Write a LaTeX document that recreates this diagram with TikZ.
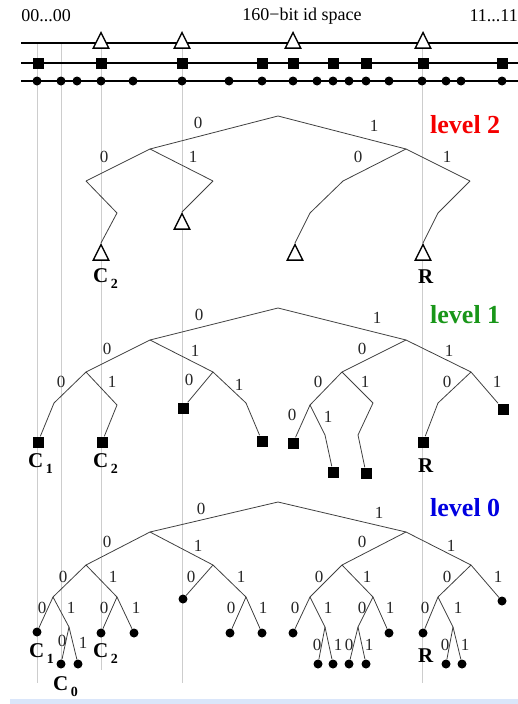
\documentclass[tikz,border=0pt]{standalone}
\usepackage{fontspec}
\setmainfont{Liberation Serif}
\usetikzlibrary{shapes.geometric}
\definecolor{lvtwo}{RGB}{245,0,0}
\definecolor{lvone}{RGB}{25,150,25}
\definecolor{lvzero}{RGB}{0,0,225}
\definecolor{guide}{RGB}{205,205,205}
\definecolor{band}{RGB}{218,230,250}
\newcommand\clab[2]{\textbf{#1}\hspace{2.5pt}\raisebox{-6pt}{\fontsize{14}{14}\selectfont\bfseries #2}}
\begin{document}
\begin{tikzpicture}[x=1pt,y=-1pt,
		edge/.style={draw=black!75,line width=0.8pt},
		bit/.style={font=\fontsize{17}{17}\selectfont,text=black!85,inner sep=0pt},
		dot/.style={circle,fill=black,inner sep=0pt,minimum size=9pt},
		sq/.style={rectangle,fill=black,inner sep=0pt,minimum size=11pt},
		tri/.style={isosceles triangle,isosceles triangle apex angle=53,shape border rotate=90,
			draw=black,line width=1.4pt,fill=white,inner sep=0pt,minimum width=15.5pt,minimum height=15.5pt},
		idline/.style={line width=1.6pt},
		guideline/.style={draw=guide,line width=1pt},
		leaflabel/.style={anchor=base west,inner sep=0pt,font=\fontsize{21}{21}\selectfont\bfseries},
		levellabel/.style={anchor=base west,inner sep=0pt,font=\fontsize{26}{26}\selectfont\bfseries},
		idtext/.style={font=\fontsize{18}{18}\selectfont,inner sep=0pt}
	]
	\useasboundingbox (0,0) rectangle (518,704);
	\fill[band] (10,699) rectangle (518,704);

	% guides down from the id space
	\foreach \x/\y in {37/683,61/660,101/670,182/683,422/683}
		\draw[guideline] (\x,43) -- (\x,\y);

	% id space
	\node[idtext] (lo) at (46,16) {00...00};
	\node[idtext] (mid) at (302,16) {160−bit id space};
	\node[idtext,anchor=east] (hi) at (518,16) {11...11};
	\foreach \y in {43,63,81}
		\draw[idline] (21,\y) -- (518,\y);
	\foreach \x in {101,182,293,423}
		\node[tri,anchor=apex] (top\x) at (\x,31) {};
	\foreach \x in {38,101,182,262,293,333,366,423,502}
		\node[sq] (mid\x) at (\x,63) {};
	\foreach \x in {37,61,77,101,133,182,229,262,293,317,333,349,366,389,422,446,461,502}
		\node[dot] (low\x) at (\x,81) {};

	% level 2
	\foreach \n/\x/\y in {r/278/116,a/150/149,b/406/149,aa/86/181,ab/213/181,ba/343/181,bb/470/181,
			aak/117/213,bak/310/213,bbk/438/213}
		\coordinate (t2\n) at (\x,\y);
	\foreach \n/\x/\y in {c/101/243,m/182/212,n/295/243,r/423/243}
		\node[tri,anchor=apex] (t2\n x) at (\x,\y) {};
	\foreach \p/\c in {r/a,r/b,a/aa,a/ab,b/ba,b/bb,aa/aak,aak/cx.apex,ab/mx.apex,
			ba/bak,bak/nx.apex,bb/bbk,bbk/rx.apex}
		\draw[edge] (t2\p) -- (t2\c);
	\foreach \x/\y/\b in {198/123/0,374/126/1,104/157/0,193/157/1,358/157/0,447/157/1}
		\node[bit] at (\x,\y) {\b};
	\node[levellabel,text=lvtwo] (lv2) at (430,133) {level 2};
	\node[leaflabel] (t2cl) at (93,282) {\clab{C}{2}};
	\node[leaflabel] (t2rl) at (418,283) {R};

	% level 1
	\foreach \n/\x/\y in {r/278/308,a/150/340,b/406/340,aa/86/372,ab/213/372,ba/342/372,bb/471/372,
			aaa/54/403,aab/117/405,abb/246/403,baa/310/405,bab/373/403,bba/438/403,
			baab/325/435,babk/358/435}
		\coordinate (t1\n) at (\x,\y);
	\foreach \n/\x/\y in {s1/38/442,s2/102/442,s3/183/408,s4/262/441,s5/293/443,
			s6/333/472,s7/366/473,s8/423/442,s9/503/409}
		\node[sq] (t1\n) at (\x,\y) {};
	\foreach \p/\c in {r/a,r/b,a/aa,a/ab,b/ba,b/bb,aa/aaa,aa/aab,aaa/s1,aab/s2,ab/s3,ab/abb,abb/s4,
			ba/baa,ba/bab,baa/s5,baa/baab,baab/s6,bab/babk,babk/s7,bb/bba,bb/s9,bba/s8}
		\draw[edge] (t1\p) -- (t1\c);
	\foreach \x/\y/\b in {199/315/0,377/318/1,107/349/0,195/351/1,362/349/0,449/351/1,
			61/382/0,112/382/1,189/380/0,239/385/1,318/382/0,365/382/1,447/382/0,497/382/1,
			292/415/0,328/417/1}
		\node[bit] at (\x,\y) {\b};
	\node[levellabel,text=lvone] (lv1) at (430,323) {level 1};
	\node[leaflabel] (t1c1) at (28,467) {\clab{C}{1}};
	\node[leaflabel] (t1c2) at (93,467) {\clab{C}{2}};
	\node[leaflabel] (t1rl) at (418,472) {R};

	% level 0
	\foreach \n/\x/\y in {r/278/502,a/150/532,b/406/532,aa/86/565,ab/213/565,ba/342/565,bb/471/565,
			aaa/53/597,aab/117/597,abb/246/597,baa/310/597,bab/373/597,bba/438/597,
			aaab/69/627,baab/325/627,baba/358/627,bbab/453/627}
		\coordinate (t0\n) at (\x,\y);
	\foreach \n/\x/\y in {d1/37/632,d2/61/664,d3/78/664,d4/101/633,d5/134/633,d6/183/599,
			d7/230/633,d8/262/633,d9/293/633,d10/318/664,d11/333/664,d12/349/664,d13/366/664,
			d14/389/633,d15/423/633,d16/446/664,d17/462/664,d18/502/601}
		\node[dot] (t0\n) at (\x,\y) {};
	\foreach \p/\c in {r/a,r/b,a/aa,a/ab,b/ba,b/bb,aa/aaa,aa/aab,aaa/d1,aaa/aaab,aaab/d2,aaab/d3,
			aab/d4,aab/d5,ab/d6,ab/abb,abb/d7,abb/d8,ba/baa,ba/bab,baa/d9,baa/baab,baab/d10,baab/d11,
			bab/baba,bab/d14,baba/d12,baba/d13,bb/bba,bb/d18,bba/d15,bba/bbab,bbab/d16,bbab/d17}
		\draw[edge] (t0\p) -- (t0\c);
	\foreach \x/\y/\b in {201/509/0,379/513/1,107/542/0,198/546/1,362/542/0,451/546/1,
			63/577/0,113/577/1,191/577/0,241/577/1,319/577/0,367/577/1,447/577/0,498/577/1,
			42/608/0,71/608/1,104/608/0,136/608/1,231/608/0,263/608/1,295/608/0,328/608/1,
			362/608/0,390/608/1,425/608/0,458/608/1,
			62/641/0,83/643/1,317/645/0,338/645/1,349/645/0,369/645/1,445/645/0,465/645/1}
		\node[bit] at (\x,\y) {\b};
	\node[levellabel,text=lvzero] (lv0) at (430,516) {level 0};
	\node[leaflabel] (t0c1) at (29,657) {\clab{C}{1}};
	\node[leaflabel] (t0c2) at (93,657) {\clab{C}{2}};
	\node[leaflabel] (t0c0) at (53,690) {\clab{C}{0}};
	\node[leaflabel] (t0rl) at (418,662) {R};
\end{tikzpicture}
\end{document}
